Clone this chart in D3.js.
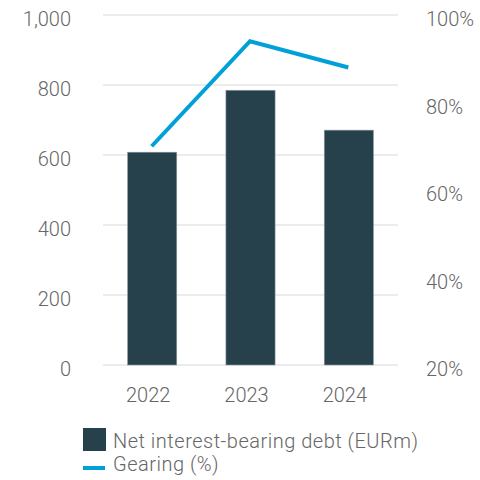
<!DOCTYPE html>
<html>
<head>
<meta charset="utf-8">
<script src="https://cdn.jsdelivr.net/npm/d3@7"></script>
<style>
  html, body { margin: 0; padding: 0; background: #fff; }
  svg { display: block; }
  text { font-family: Roboto, "Liberation Sans", sans-serif; font-weight: 300; fill: #666; }
</style>
</head>
<body>
<svg id="chart" width="480" height="480"></svg>
<script>
// Net interest-bearing debt (bars, left axis) and gearing (line, right axis)
const years = ["2022", "2023", "2024"];
const debtValues = [608, 785, 671];          // EURm
const gearingValues = [70, 94, 88];          // %
const debtTicks = [0, 200, 400, 600, 800, 1000];
const gearingTicks = [20, 40, 60, 80, 100];
const legendLabels = ["Net interest-bearing debt (EURm)", "Gearing (%)"];

const barColor = "#26404c";
const lineColor = "#00a0d8";
const gridColor = "#e6e6e6";

const svg = d3.select("#chart");

const plotLeft = 103, plotRight = 398, plotTop = 15, plotBottom = 365;

const x = d3.scaleBand()
  .domain(years)
  .range([plotLeft, plotRight])
  .paddingInner(0.5)
  .paddingOuter(0.25);

const yLeft = d3.scaleLinear().domain([0, 1000]).range([plotBottom, plotTop]);
const yRight = d3.scaleLinear().domain([20, 100]).range([plotBottom, plotTop]);

// Gridlines
svg.append("g")
  .selectAll("line")
  .data(debtTicks)
  .join("line")
  .attr("x1", plotLeft)
  .attr("x2", plotRight)
  .attr("y1", d => yLeft(d))
  .attr("y2", d => yLeft(d))
  .attr("stroke", gridColor)
  .attr("stroke-width", 1.5);

// Left axis labels
const leftAxis = d3.axisLeft(yLeft)
  .tickValues(debtTicks)
  .tickFormat(d3.format(","))
  .tickSize(0)
  .tickPadding(0);
const gl = svg.append("g").attr("transform", "translate(71,0)").call(leftAxis);
gl.select(".domain").remove();
gl.selectAll("text")
  .attr("font-size", 20)
  .attr("font-family", null)
  .attr("dy", "0.53em")
  .attr("fill", null);

// Right axis labels
const rightAxis = d3.axisRight(yRight)
  .tickValues(gearingTicks)
  .tickFormat(d => d + "%")
  .tickSize(0)
  .tickPadding(0);
const gr = svg.append("g").attr("transform", "translate(426,0)").call(rightAxis);
gr.select(".domain").remove();
gr.selectAll("text")
  .attr("font-size", 20)
  .attr("font-family", null)
  .attr("dy", "0.53em")
  .attr("fill", null);

// Bars
svg.append("g")
  .selectAll("rect")
  .data(years.map((y, i) => ({ year: y, value: debtValues[i] })))
  .join("rect")
  .attr("x", d => x(d.year))
  .attr("width", x.bandwidth())
  .attr("y", d => yLeft(d.value))
  .attr("height", d => yLeft(0) - yLeft(d.value))
  .attr("fill", barColor)
  .attr("stroke", "#8e9ca4")
  .attr("stroke-width", 0.6);

// Gearing line
const line = d3.line()
  .x((d, i) => x(years[i]) + x.bandwidth() / 2 - 0.5)
  .y(d => yRight(d));
svg.append("path")
  .datum(gearingValues)
  .attr("d", line)
  .attr("fill", "none")
  .attr("stroke", lineColor)
  .attr("stroke-width", 4)
  .attr("stroke-linejoin", "miter")
  .attr("stroke-linecap", "butt");

// Category labels
const bottomAxis = d3.axisBottom(x).tickSize(0).tickPadding(0);
const gb = svg.append("g").attr("transform", "translate(-4,402)").call(bottomAxis);
gb.select(".domain").remove();
gb.selectAll("text")
  .attr("font-size", 20)
  .attr("font-family", null)
  .attr("dy", 0)
  .attr("fill", null);

// Legend
const legend = svg.append("g");
legend.append("rect")
  .attr("x", 83).attr("y", 428)
  .attr("width", 23).attr("height", 23)
  .attr("fill", barColor);
legend.append("text")
  .attr("x", 113).attr("y", 448)
  .attr("font-size", 20)
  .attr("letter-spacing", 0.5)
  .text(legendLabels[0]);
legend.append("line")
  .attr("x1", 83).attr("x2", 105)
  .attr("y1", 468).attr("y2", 468)
  .attr("stroke", lineColor)
  .attr("stroke-width", 4);
legend.append("text")
  .attr("x", 113).attr("y", 471)
  .attr("font-size", 20)
  .attr("letter-spacing", 0.5)
  .text(legendLabels[1]);
</script>
</body>
</html>
